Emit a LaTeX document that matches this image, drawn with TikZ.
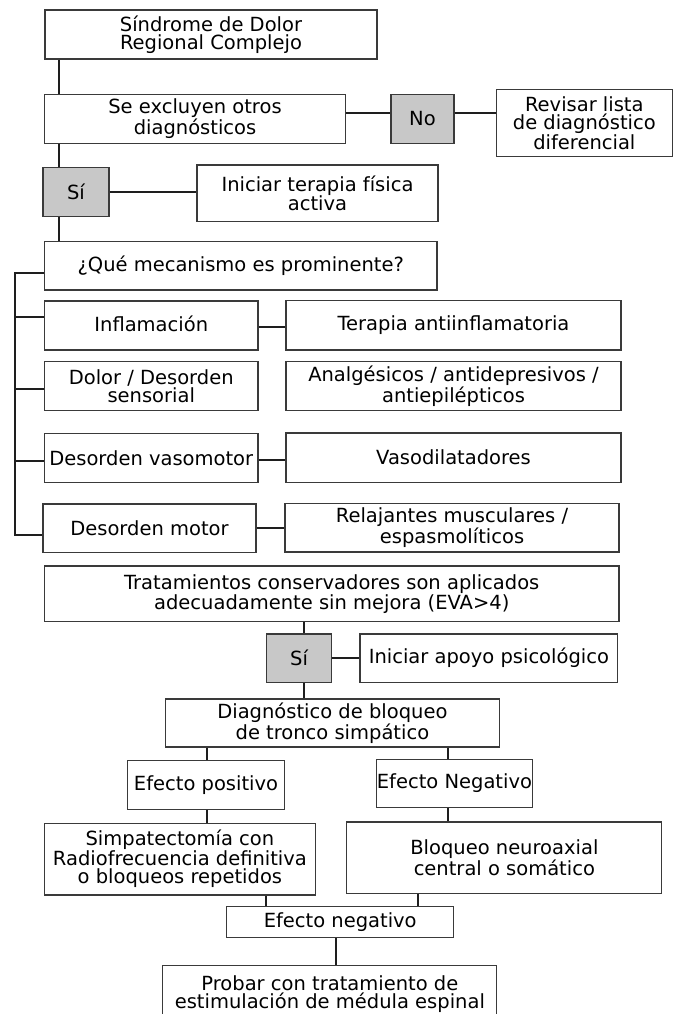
\documentclass[tikz,border=0pt]{standalone}
\usepackage{fontspec}
\setmainfont{DejaVu Sans}
\definecolor{boxc}{HTML}{3A3A3A}
\definecolor{linec}{HTML}{1E1E1E}
\definecolor{grayf}{HTML}{C8C8C8}
\tikzset{
  box/.style={draw=boxc, line width=1.1pt, fill=white, inner sep=0pt, align=center,
    font=\fontsize{19.5}{18}\selectfont},
  gbox/.style={box, fill=grayf},
  conn/.style={draw=linec, line width=1.9pt}
}
\begin{document}
\begin{tikzpicture}[x=1pt,y=-1pt]
\clip (0,0) rectangle (674,1014);
\fill[white] (0,0) rectangle (674,1014);
\coordinate (spine) at (59,0);
\coordinate (bus) at (15,0);
\coordinate (mid) at (303.7,0);

\node[box, minimum width=332pt, minimum height=49pt] (sdr) at (211,34.5) {Síndrome de Dolor\\Regional Complejo};
\node[box, minimum width=301pt, minimum height=49pt] (excl) at (195,118.8) {Se excluyen otros\\diagnósticos};
\node[gbox, minimum width=63pt, minimum height=49pt] (no) at (422.5,118.8) {No};
\node[box, minimum width=176.5pt, minimum height=67.4pt] (rev) at (584.3,123) {Revisar lista\\de diagnóstico\\diferencial};
\node[gbox, minimum width=66pt, minimum height=49pt] (si1) at (76,192.2) {Sí};
\node[box, minimum width=241pt, minimum height=56.7pt] (ini) at (317.5,193.3) {Iniciar terapia física\\activa};
\node[box, minimum width=392.5pt, minimum height=48.3pt] (que) at (240.75,265.85) {¿Qué mecanismo es prominente?\rule[-4pt]{0pt}{0pt}};
\node[box, minimum width=213.5pt, minimum height=49pt] (infl) at (151.25,325.5) {Inflamación\rule[-4pt]{0pt}{0pt}};
\node[box, minimum width=335pt, minimum height=49.3pt] (antiinf) at (453.5,325.35) {Terapia antiinflamatoria\rule[-4pt]{0pt}{0pt}};
\node[box, minimum width=213.5pt, minimum height=49pt] (dolor) at (151.25,386.2) {Dolor / Desorden\\sensorial};
\node[box, minimum width=335pt, minimum height=48.6pt] (analg) at (453.5,386) {Analgésicos / antidepresivos /\\antiepilépticos};
\node[box, minimum width=213.5pt, minimum height=48.6pt] (vaso) at (151.25,458) {Desorden vasomotor};
\node[box, minimum width=335pt, minimum height=49.3pt] (vasod) at (453.5,457.65) {Vasodilatadores};
\node[box, minimum width=213pt, minimum height=48.3pt] (motor) at (149.5,528.15) {Desorden motor};
\node[box, minimum width=334pt, minimum height=48.7pt] (relaj) at (452,527.65) {Relajantes musculares /\\espasmolíticos};
\node[box, minimum width=574.5pt, minimum height=55.7pt] (trat) at (331.75,593.85) {Tratamientos conservadores son aplicados\\adecuadamente sin mejora (EVA>4)};
\node[gbox, minimum width=65.2pt, minimum height=48.3pt] (si2) at (299.1,658.15) {Sí};
\node[box, minimum width=257.7pt, minimum height=48.3pt] (apoyo) at (488.85,658.15) {Iniciar apoyo psicológico};
\node[box, minimum width=334pt, minimum height=48pt] (diag) at (332.4,723) {Diagnóstico de bloqueo\\de tronco simpático};
\node[box, minimum width=156.3pt, minimum height=48.6pt] (pos) at (206,785) {Efecto positivo};
\node[box, minimum width=155.5pt, minimum height=48.4pt] (neg) at (454.45,783.5) {Efecto Negativo\rule[-5pt]{0pt}{0pt}};
\node[box, minimum width=270.8pt, minimum height=71.7pt] (simp) at (179.9,859.15) {Simpatectomía con\\Radiofrecuencia definitiva\\o bloqueos repetidos};
\node[box, minimum width=314.9pt, minimum height=71.3pt] (bloq) at (504.35,857.65) {Bloqueo neuroaxial\\central o somático};
\node[box, minimum width=226.8pt, minimum height=31pt] (efneg) at (340.2,922.2) {Efecto negativo};
\node[box, minimum width=333.9pt, minimum height=56.3pt] (probar) at (329.85,993.85) {Probar con tratamiento de\\estimulación de médula espinal};

\draw[conn] (sdr.south -| spine) -- (excl.north -| spine);
\draw[conn] (excl.south -| spine) -- (si1.north -| spine);
\draw[conn] (si1.south -| spine) -- (que.north -| spine);
\draw[conn] ([yshift=5.5pt]excl.east) -- ([yshift=5.5pt]no.west);
\draw[conn] ([yshift=5.5pt]no.east) -- ([yshift=5.5pt]no.east -| rev.west);
\draw[conn] (si1.east) -- (si1.east -| ini.west);
\draw[conn] ([yshift=-7.5pt]que.west) -- ([yshift=-7.5pt]que.west -| bus) -- ([yshift=-6.85pt]motor.west -| bus) -- ([yshift=-6.85pt]motor.west);
\draw[conn] ([yshift=8.2pt]infl.west -| bus) -- ([yshift=8.2pt]infl.west);
\draw[conn] ([yshift=-3pt]dolor.west -| bus) -- ([yshift=-3pt]dolor.west);
\draw[conn] ([yshift=-2.7pt]vaso.west -| bus) -- ([yshift=-2.7pt]vaso.west);
\draw[conn] ([yshift=-1.2pt]infl.east) -- ([yshift=-1.2pt]infl.east -| antiinf.west);
\draw[conn] ([yshift=-2pt]vaso.east) -- ([yshift=-2pt]vaso.east -| vasod.west);
\draw[conn] (motor.east) -- (motor.east -| relaj.west);
\draw[conn] (trat.south -| mid) -- (si2.north -| mid);
\draw[conn] (si2.south -| mid) -- (diag.north -| mid);
\draw[conn] (si2.east) -- (si2.east -| apoyo.west);
\draw[conn] ([xshift=1.3pt]pos.north |- diag.south) -- ([xshift=1.3pt]pos.north);
\draw[conn] ([xshift=-6.5pt]neg.north |- diag.south) -- ([xshift=-6.5pt]neg.north);
\draw[conn] ([xshift=1.3pt]pos.south) -- ([xshift=1.3pt]pos.south |- simp.north);
\draw[conn] ([xshift=-6.5pt]neg.south) -- ([xshift=-6.5pt]neg.south |- bloq.north);
\draw[conn] ([xshift=-74.5pt]efneg.north |- simp.south) -- ([xshift=-74.5pt]efneg.north);
\draw[conn] ([xshift=77.5pt]efneg.north |- bloq.south) -- ([xshift=77.5pt]efneg.north);
\draw[conn] ([xshift=-4.2pt]efneg.south) -- ([xshift=-4.2pt]efneg.south |- probar.north);
\end{tikzpicture}
\end{document}
